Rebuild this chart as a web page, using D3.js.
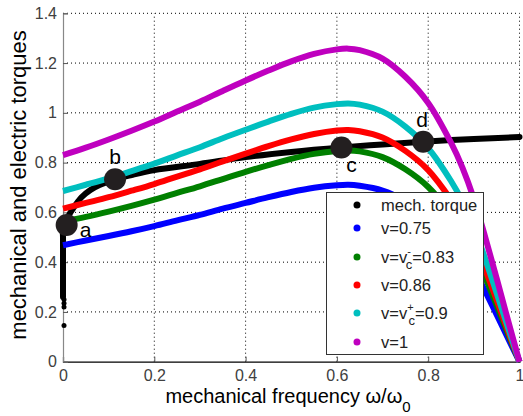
<!DOCTYPE html>
<html><head><meta charset="utf-8">
<script src="https://cdn.jsdelivr.net/npm/d3@7"></script>
<style>body{margin:0;background:#fff}svg{display:block}text{font-family:"Liberation Sans",Arial,sans-serif}</style>
</head><body>
<svg id="c" width="523" height="416"></svg>
<script>
// ---- data ----
const freq = [0,0.05,0.1,0.15,0.2,0.25,0.3,0.35,0.4,0.45,0.5,0.55,0.6,0.625,0.65,0.7,0.75,0.8,0.85,0.875,0.9,0.925,0.95,0.975,1];
const torqueV075 = [0.468,0.487,0.505,0.524,0.545,0.568,0.590,0.615,0.638,0.661,0.682,0.699,0.709,0.711,0.707,0.688,0.647,0.588,0.497,0.441,0.370,0.283,0.189,0.093,0];
const torqueV083 = [0.564,0.582,0.603,0.626,0.651,0.678,0.705,0.734,0.763,0.790,0.815,0.835,0.847,0.849,0.845,0.822,0.773,0.702,0.594,0.527,0.442,0.338,0.226,0.111,0];
const torqueV086 = [0.615,0.638,0.661,0.687,0.714,0.744,0.773,0.805,0.836,0.866,0.893,0.915,0.929,0.931,0.926,0.901,0.847,0.770,0.651,0.577,0.485,0.370,0.248,0.122,0];
const torqueV09  = [0.686,0.711,0.737,0.766,0.796,0.829,0.862,0.898,0.932,0.965,0.996,1.021,1.035,1.038,1.033,1.005,0.945,0.858,0.726,0.644,0.540,0.413,0.276,0.136,0];
const torqueV1   = [0.830,0.860,0.893,0.928,0.965,1.005,1.045,1.088,1.130,1.170,1.207,1.237,1.255,1.258,1.252,1.218,1.145,1.040,0.880,0.780,0.655,0.500,0.335,0.165,0];
const mechFreq   = [0,0,0,0,0,0.01,0.02,0.04,0.06,0.08,0.114,0.15,0.2,0.3,0.4,0.5,0.61,0.7,0.789,0.9,1];
const mechTorque = [0.26,0.3,0.4,0.5,0.55,0.58,0.61,0.66,0.69,0.71,0.733,0.75,0.77,0.795,0.822,0.843,0.861,0.873,0.884,0.895,0.903];
const mechDotsFreq = [0,0,0,0];
const mechDotsTorque = [0.25,0.235,0.22,0.145];
const seriesNames = ["v=0.75","v=v_c^-=0.83","v=0.86","v=v_c^+=0.9","v=1"];
const seriesColors = ["#0000ff","#008000","#ff0000","#00bfbf","#bf00bf"];
const pointLabels = ["a","b","c","d"];
const pointFreq = [0.008,0.114,0.61,0.789];
const pointTorque = [0.549,0.733,0.861,0.884];
const xTicks = [0,0.2,0.4,0.6,0.8,1];
const yTicks = [0,0.2,0.4,0.6,0.8,1,1.2,1.4];

// ---- drawing ----
const svg = d3.select("#c");
const x = d3.scaleLinear([0,1],[63,519.5]);
const y = d3.scaleLinear([0,1.4],[361.7,13.3]);

// grid
const grid = svg.append("g").attr("stroke","#000").attr("stroke-width",1).attr("stroke-dasharray","1,3");
xTicks.filter(d=>d>0).forEach(t=>grid.append("line").attr("x1",x(t)).attr("x2",x(t)).attr("y1",y(0)).attr("y2",y(1.4)));
yTicks.filter(d=>d>0).forEach(t=>grid.append("line").attr("x1",x(0)).attr("x2",x(1)).attr("y1",y(t)).attr("y2",y(t)));

// axes
const fmt = d=> d===0?"0":d===1?"1":d3.format(".1f")(d);
const xa = svg.append("g").attr("transform",`translate(0,${y(0)})`)
  .call(d3.axisBottom(x).tickValues(xTicks).tickFormat(fmt).tickSize(-5).tickPadding(8));
const ya = svg.append("g").attr("transform",`translate(${x(0)},0)`)
  .call(d3.axisLeft(y).tickValues(yTicks).tickFormat(fmt).tickSize(-5).tickPadding(6));
[xa,ya].forEach(a=>{a.selectAll("text").attr("font-size",16).attr("fill","#404040").attr("font-family","Liberation Sans, Arial");
  a.selectAll(".tick line").attr("stroke","#555");});
xa.select(".domain").attr("stroke","#000").attr("stroke-width",1.2);
ya.select(".domain").attr("stroke","#888").attr("stroke-width",1.2);

// curves
const line = d3.line().x(d=>x(d[0])).y(d=>y(d[1])).curve(d3.curveCatmullRom.alpha(0.5));
svg.append("path").datum(mechFreq.map((f,i)=>[f,mechTorque[i]]))
  .attr("d",line).attr("fill","none").attr("stroke","#000").attr("stroke-width",6).attr("stroke-linecap","round");
svg.selectAll(".md").data(mechDotsFreq.map((f,i)=>[f,mechDotsTorque[i]])).join("circle")
  .attr("cx",d=>x(d[0])+1).attr("cy",d=>y(d[1])).attr("r",2.5).attr("fill","#000");
const allSeries = [torqueV075,torqueV083,torqueV086,torqueV09,torqueV1];
allSeries.forEach((s,k)=>{
  svg.append("path").datum(freq.map((f,i)=>[f,s[i]])).attr("d",line)
    .attr("fill","none").attr("stroke",seriesColors[k]).attr("stroke-width",6);
});

// points
pointLabels.forEach((l,i)=>{
  svg.append("circle").attr("cx",x(pointFreq[i])).attr("cy",y(pointTorque[i])).attr("r",11).attr("fill","#231f20");
});
const lblOff = [[19,12],[0,-15],[10,25],[-1,-15]];
pointLabels.forEach((l,i)=>{
  svg.append("text").attr("x",x(pointFreq[i])+lblOff[i][0]).attr("y",y(pointTorque[i])+lblOff[i][1])
    .attr("text-anchor","middle").attr("font-size",21).attr("fill","#000").text(l);
});

// legend
const lg = svg.append("g");
lg.append("rect").attr("x",326.5).attr("y",192.5).attr("width",157).attr("height",162).attr("fill","#fff").attr("stroke","#333").attr("stroke-width",1);
const legNames = ["mech. torque"].concat(seriesNames);
const legColors = ["#000"].concat(seriesColors);
const legY = [205,228,257,285,313,342];
legNames.forEach((n,i)=>{
  lg.append("circle").attr("cx",357).attr("cy",legY[i]).attr("r",3.5).attr("fill",legColors[i]);
  const t = lg.append("text").attr("x",381).attr("y",legY[i]+6).attr("font-size",16.5).attr("fill","#222");
  const m = n.match(/^(.*)_c\^(.)(.*)$/);
  if(m){
    t.append("tspan").text(m[1]);
    t.append("tspan").attr("font-size",11).attr("dy",-8).text(m[2]);
    t.append("tspan").attr("font-size",13).attr("dx",-5).attr("dy",14).text("c");
    t.append("tspan").attr("dy",-6).text(m[3]);
  } else t.text(n);
});

// axis labels
const xl = svg.append("text").attr("x",288).attr("y",403).attr("text-anchor","middle").attr("font-size",20).attr("fill","#000");
xl.append("tspan").text("mechanical frequency ω/ω");
xl.append("tspan").attr("font-size",15).attr("dy",9).text("0");
svg.append("text").attr("transform","translate(26,185) rotate(-90)").attr("text-anchor","middle")
  .attr("font-size",22).attr("fill","#000").text("mechanical and electric torques");
</script>
</body></html>
